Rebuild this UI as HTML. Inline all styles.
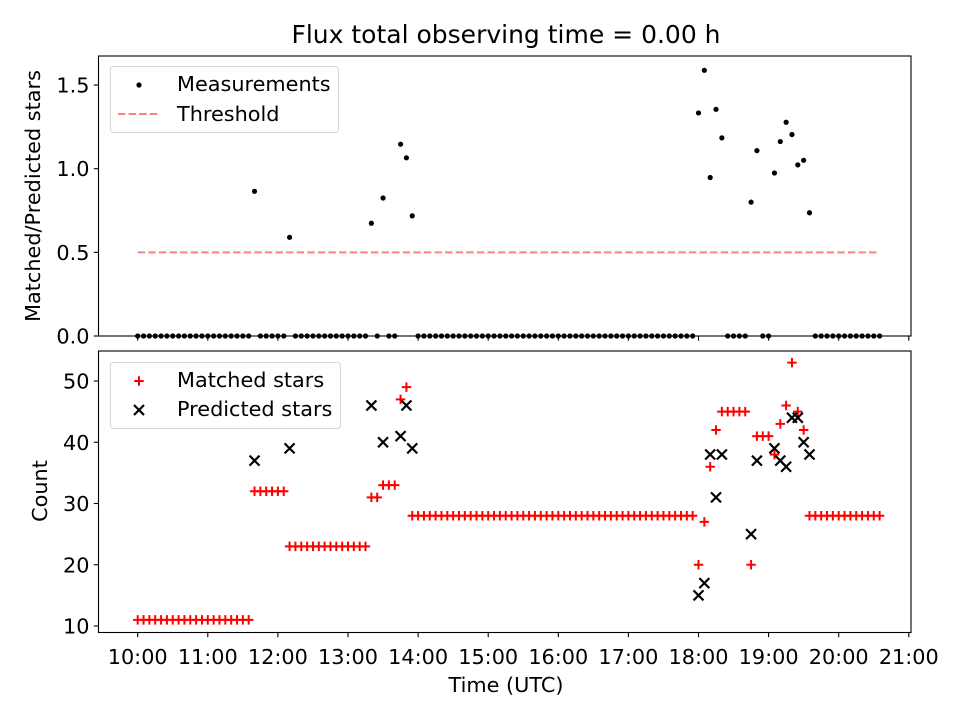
<!DOCTYPE html>
<html><head><meta charset="utf-8"><style>
html,body{margin:0;padding:0;background:#fff;}
svg{display:block;font-family:"DejaVu Sans","Liberation Sans",sans-serif;}
</style></head><body>
<svg id="chart" width="960" height="720" viewBox="0 0 960 720" xmlns="http://www.w3.org/2000/svg">
<rect width="960" height="720" fill="#fff"/>
<text x="506" y="43" font-size="25" text-anchor="middle" fill="#000">Flux total observing time = 0.00 h</text>
<g id="topPanel"></g>
<g id="botPanel"></g>
</svg>
<script>
// minutes after 10:00 UTC
const times = [0,5,10,15,20,25,30,35,40,45,50,55,60,65,70,75,80,85,90,95,
100,105,110,115,120,125,
130,135,140,145,150,155,160,165,170,175,180,185,190,195,
200,205,210,215,220,225,230,235,
240,245,250,255,260,265,270,275,280,285,290,295,300,305,310,315,320,325,330,335,340,345,350,355,360,365,370,375,380,385,390,395,400,405,410,415,420,425,430,435,440,445,450,455,460,465,470,475,
480,485,490,495,500,505,510,515,520,525,530,535,540,545,550,555,560,565,570,575,
580,585,590,595,600,605,610,615,620,625,630,635];
const matched = [11,11,11,11,11,11,11,11,11,11,11,11,11,11,11,11,11,11,11,11,
32,32,32,32,32,32,
23,23,23,23,23,23,23,23,23,23,23,23,23,23,
31,31,33,33,33,47,49,28,
28,28,28,28,28,28,28,28,28,28,28,28,28,28,28,28,28,28,28,28,28,28,28,28,28,28,28,28,28,28,28,28,28,28,28,28,28,28,28,28,28,28,28,28,28,28,28,28,
20,27,36,42,45,45,45,45,45,20,41,41,41,38,43,46,53,45,42,28,
28,28,28,28,28,28,28,28,28,28,28,28];
// null = no prediction available
const predicted = [null,null,null,null,null,null,null,null,null,null,null,null,null,null,null,null,null,null,null,null,
37,null,null,null,null,null,
39,null,null,null,null,null,null,null,null,null,null,null,null,null,
46,null,40,null,null,41,46,39,
null,null,null,null,null,null,null,null,null,null,null,null,null,null,null,null,null,null,null,null,null,null,null,null,null,null,null,null,null,null,null,null,null,null,null,null,null,null,null,null,null,null,null,null,null,null,null,null,
15,17,38,31,38,null,null,null,null,25,37,null,null,39,37,36,44,44,40,38,
null,null,null,null,null,null,null,null,null,null,null,null];
const threshold = 0.5;
const ratioTicks = [0.0,0.5,1.0,1.5];
const countTicks = [10,20,30,40,50];
const hourTicks = ["10:00","11:00","12:00","13:00","14:00","15:00","16:00","17:00","18:00","19:00","20:00","21:00"];

const NS="http://www.w3.org/2000/svg";
const FS=20.8;
const L=98.5,R=911;
const X=m=>137.7+m*70.1/60;
const Yt=v=>336-v*167.3;
const Yb=v=>626-(v-10)*6.125;
function el(parent,tag,attrs,text){const e=document.createElementNS(NS,tag);for(const k in attrs)e.setAttribute(k,attrs[k]);if(text!==undefined)e.textContent=text;parent.appendChild(e);return e;}
const topG=document.getElementById('topPanel'),botG=document.getElementById('botPanel');

function frame(g,y0,y1,name){
  const r=el(g,'rect',{x:L,y:y0,width:R-L,height:y1-y0,fill:'none',stroke:'#000','stroke-width':1.1});
  
  
  hourTicks.forEach((h,i)=>{
    const x=X(i*60);
    const t=el(g,'line',{x1:x,x2:x,y1:y1,y2:y1+4.7,stroke:'#000','stroke-width':1.1});
    
    
  });
}
// top panel
frame(topG,56,336,'ratio-axes');
ratioTicks.forEach(v=>{
  const y=Yt(v);
  const t=el(topG,'line',{x1:L-4.7,x2:L,y1:y,y2:y,stroke:'#000','stroke-width':1.1});
  
  
  const lb=el(topG,'text',{x:L-9,y:y+7.5,'font-size':FS,'text-anchor':'end'},v.toFixed(1));
  
  
});
const thr=el(topG,'line',{x1:X(times[0]),x2:X(times[times.length-1]),y1:Yt(threshold),y2:Yt(threshold),stroke:'#ff8080','stroke-width':2,'stroke-dasharray':'7.4,3.2'});


times.forEach((m,i)=>{
  const r=predicted[i]?matched[i]/predicted[i]:0;
  const c=el(topG,'circle',{cx:X(m),cy:Yt(r),r:2.6,fill:'#000'});
  
  
});
const yl1=el(topG,'text',{x:0,y:0,'font-size':FS,'text-anchor':'middle',transform:'translate(40,196) rotate(-90)'},'Matched/Predicted stars');


// top legend
const lg1=el(topG,'g',{});


el(lg1,'rect',{x:110.5,y:66.5,width:228,height:66,rx:3,fill:'#fff','fill-opacity':0.8,stroke:'#d6d6d6','stroke-width':1});
el(lg1,'circle',{cx:139,cy:85,r:2.6,fill:'#000'});
el(lg1,'text',{x:177,y:91,'font-size':FS},'Measurements');
el(lg1,'line',{x1:118,x2:160,y1:114,y2:114,stroke:'#ff8080','stroke-width':2,'stroke-dasharray':'7.4,3.2'});
el(lg1,'text',{x:177,y:121,'font-size':FS},'Threshold');

// bottom panel
frame(botG,351,632.5,'count-axes');
countTicks.forEach(v=>{
  const y=Yb(v);
  const t=el(botG,'line',{x1:L-4.7,x2:L,y1:y,y2:y,stroke:'#000','stroke-width':1.1});
  
  
  const lb=el(botG,'text',{x:L-9,y:y+7.5,'font-size':FS,'text-anchor':'end'},String(v));
  
  
});
hourTicks.forEach((h,i)=>{
  const lb=el(botG,'text',{x:X(i*60),y:664,'font-size':FS,'text-anchor':'middle'},h);
  
  
});
function plus(g,x,y){return el(g,'path',{d:`M${x-4.7},${y}H${x+4.7}M${x},${y-4.7}V${y+4.7}`,stroke:'#ff0000','stroke-width':2,fill:'none'});}
function cross(g,x,y){return el(g,'path',{d:`M${x-5},${y-5}L${x+5},${y+5}M${x-5},${y+5}L${x+5},${y-5}`,stroke:'#000','stroke-width':2.2,fill:'none'});}
times.forEach((m,i)=>{
  const p=plus(botG,X(m),Yb(matched[i]));
  
  
});
times.forEach((m,i)=>{
  if(predicted[i]==null)return;
  const c=cross(botG,X(m),Yb(predicted[i]));
  
  
});
const yl2=el(botG,'text',{x:0,y:0,'font-size':FS,'text-anchor':'middle',transform:'translate(47,491) rotate(-90)'},'Count');


const xl=el(botG,'text',{x:506,y:692,'font-size':FS,'text-anchor':'middle'},'Time (UTC)');


const lg2=el(botG,'g',{});


el(lg2,'rect',{x:110.5,y:362.5,width:230,height:66,rx:3,fill:'#fff','fill-opacity':0.8,stroke:'#d6d6d6','stroke-width':1});
plus(lg2,139,381);
el(lg2,'text',{x:177,y:387,'font-size':FS},'Matched stars');
cross(lg2,139,410);
el(lg2,'text',{x:177,y:416,'font-size':FS},'Predicted stars');
</script>
</body></html>
